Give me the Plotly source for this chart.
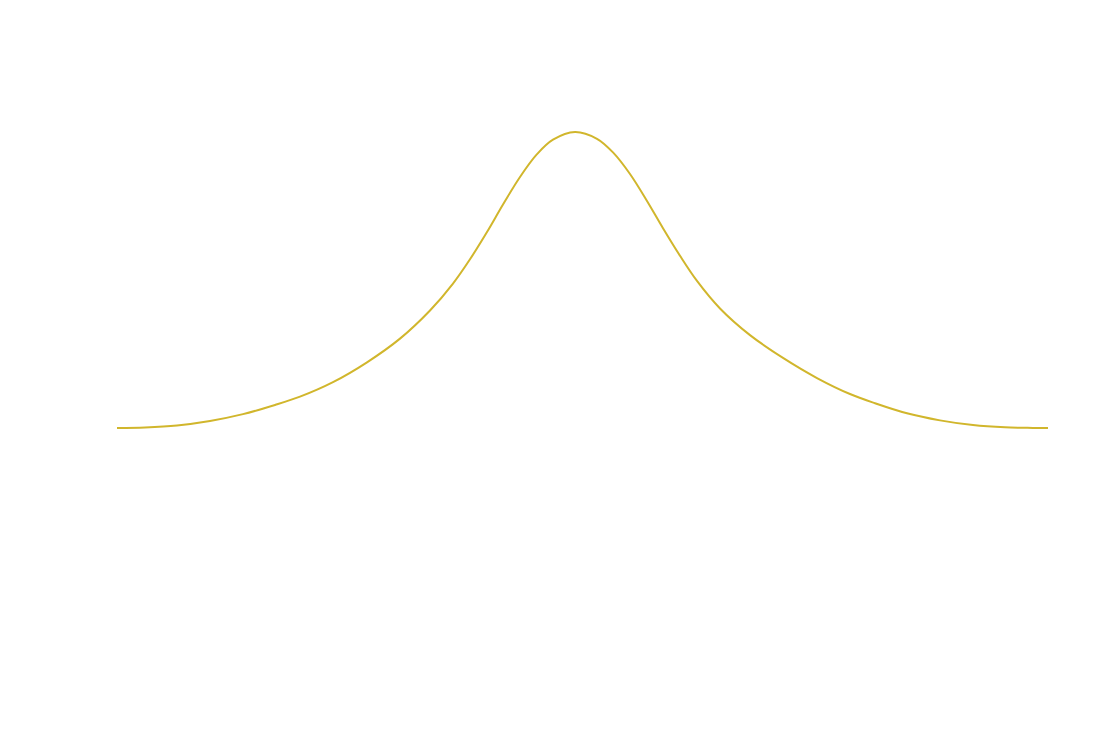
import plotly.graph_objects as go

# distance from the peak (1 unit = 100 px) and normalized heights
dist = [0.0, 0.22, 0.38, 0.55, 0.72, 0.88, 1.05, 1.22, 1.45, 1.75, 2.08, 2.42,
        2.75, 3.00, 3.32, 3.65, 3.98, 4.30, 4.58]
height_left = [1.000, 0.974, 0.925, 0.848, 0.755, 0.662, 0.570, 0.488, 0.397, 0.302,
               0.222, 0.155, 0.106, 0.078, 0.047, 0.024, 0.009, 0.0022, 0.000]
height_right = [1.000, 0.977, 0.931, 0.858, 0.767, 0.675, 0.582, 0.497, 0.404, 0.314,
                0.237, 0.169, 0.115, 0.084, 0.050, 0.026, 0.010, 0.0025, 0.0005]
right_end = 4.73

x_vals = [-d for d in dist[::-1]] + dist[1:] + [right_end]
y_vals = height_left[::-1] + height_right[1:] + [0.0]

fig = go.Figure()
fig.add_trace(go.Scatter(
    x=x_vals, y=y_vals, mode="lines",
    line=dict(color="#d1b62c", width=2, shape="spline", smoothing=1),
    showlegend=False, hoverinfo="skip",
))
fig.update_layout(
    width=1105, height=747,
    margin=dict(l=117, r=57, t=100, b=80),
    paper_bgcolor="white", plot_bgcolor="white",
    xaxis=dict(visible=False, range=[-4.58, 4.73]),
    yaxis=dict(visible=False, range=[-0.807, 1.108]),
)
fig.write_html("out.html")
